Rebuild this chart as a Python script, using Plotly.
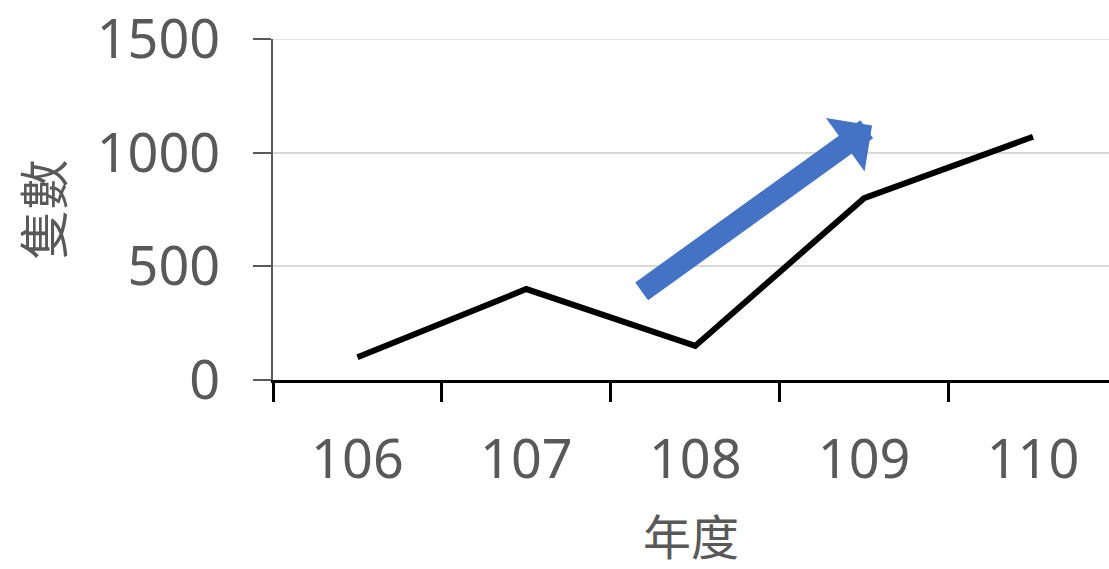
import plotly.graph_objects as go

years = ["106", "107", "108", "109", "110"]
counts = [100, 400, 150, 800, 1070]
y_ticks = [0, 500, 1000, 1500]
x_title = "年度"
y_title = "隻數"
# decorative trend arrow (category index, value)
arrow_tail = (1.674, 385)
arrow_tip = (3.047, 1120)

FONT = "Noto Sans, Noto Sans CJK TC, sans-serif"
GREY = "#595959"

fig = go.Figure()
fig.add_trace(go.Scatter(
    x=years, y=counts, mode="lines",
    line=dict(color="black", width=6),
    hoverinfo="skip", showlegend=False,
))

# top gridline (plotly omits the gridline at the range edge)
fig.add_shape(type="line", xref="paper", yref="y", x0=0, x1=1,
              y0=y_ticks[-1], y1=y_ticks[-1],
              line=dict(color="#d9d9d9", width=1.5), layer="below")

fig.add_annotation(
    x=arrow_tip[0], y=arrow_tip[1], xref="x", yref="y",
    ax=arrow_tail[0], ay=arrow_tail[1], axref="x", ayref="y",
    showarrow=True, arrowhead=1, arrowsize=0.5, arrowwidth=22,
    arrowcolor="#4472C4", text="",
)

fig.add_annotation(
    text=y_title, textangle=-90, xref="paper", yref="paper",
    x=-0.275, y=0.5, xanchor="center", yanchor="middle", showarrow=False,
    font=dict(family=FONT, size=50, color=GREY),
)
fig.add_annotation(
    text=x_title, xref="paper", yref="paper",
    x=0.5, y=-0.46, xanchor="center", yanchor="middle", showarrow=False,
    font=dict(family=FONT, size=48, color=GREY),
)

fig.update_layout(
    width=1109, height=569,
    margin=dict(l=273, r=0, t=36, b=189),
    plot_bgcolor="white", paper_bgcolor="white",
    font=dict(family=FONT, size=54, color=GREY),
    xaxis=dict(
        type="category", range=[-0.5, 4.45],
        showline=True, linecolor="black", linewidth=3,
        ticks="outside", tickson="boundaries", ticklen=19, tickwidth=2.5, tickcolor="black",
        showgrid=False, zeroline=False,
        tickfont=dict(family=FONT, size=54, color=GREY),
        ticklabelstandoff=30,
    ),
    yaxis=dict(
        range=[0, 1500], tickvals=y_ticks,
        showline=True, linecolor=GREY, linewidth=2,
        ticks="outside", ticklen=18, tickwidth=2, tickcolor=GREY,
        showgrid=True, gridcolor="#d9d9d9", gridwidth=1.5, zeroline=False,
        tickfont=dict(family=FONT, size=54, color=GREY),
        ticklabelstandoff=22, ticklabeloverflow="allow",
    ),
)

fig.write_html("out.html")
